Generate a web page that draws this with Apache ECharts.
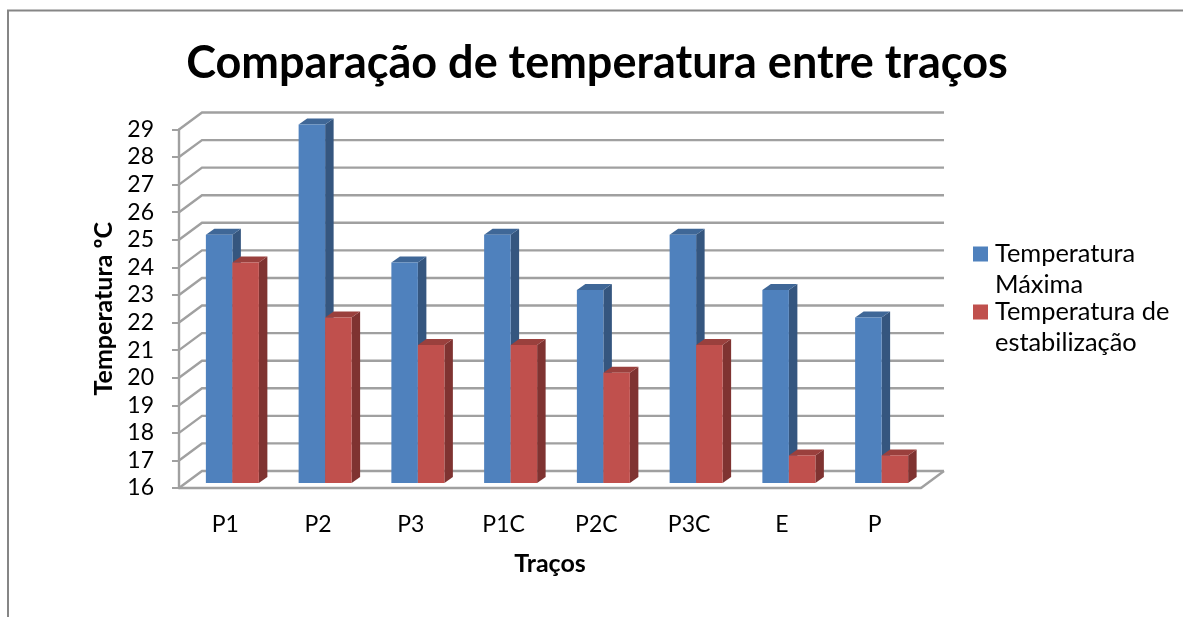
<!DOCTYPE html>
<html>
<head>
<meta charset="utf-8">
<title>Comparação de temperatura entre traços</title>
<script src="https://cdn.jsdelivr.net/npm/echarts@6/dist/echarts.min.js"></script>
<style>
  html, body { margin: 0; padding: 0; background: #fff; }
  #main { width: 1183px; height: 617px; }
</style>
</head>
<body>
<div id="main"></div>
<script>
const categories = ['P1', 'P2', 'P3', 'P1C', 'P2C', 'P3C', 'E', 'P'];
const tempMaxima = [25, 29, 24, 25, 23, 25, 23, 22];
const tempEstabilizacao = [24, 22, 21, 21, 20, 21, 17, 17];
const yTicks = [16, 17, 18, 19, 20, 21, 22, 23, 24, 25, 26, 27, 28, 29];

const FONT = 'Lato';
const GRID_COLOR = '#a0a0a0';
// fake 3D offsets, in pixels
const WALL_DX = 23, WALL_DY = -17;
const BAR_DX = 7, BAR_DY = -5;
const DEPTH_DX = 8.5, DEPTH_DY = -6;

const chart = echarts.init(document.getElementById('main'), null, { renderer: 'canvas' });

// back wall lines, one for each tick
function renderWall(params, api) {
  const v = api.value(0);
  const left = api.coord([0, v]);
  const band = api.size([1, 0])[0];
  const x0 = left[0] - band / 2;
  const x1 = left[0] + band * 7.5;
  const y = left[1];
  const children = [{
    type: 'polyline',
    shape: { points: [[x0, y], [x0 + WALL_DX, y + WALL_DY], [x1 + WALL_DX, y + WALL_DY]] },
    style: { stroke: GRID_COLOR, lineWidth: 2.4, fill: null }
  }];
  if (v === yTicks[0]) {
    // right edge of the floor
    children.push({
      type: 'line',
      shape: { x1: x1, y1: y, x2: x1 + WALL_DX, y2: y + WALL_DY },
      style: { stroke: GRID_COLOR, lineWidth: 2.4 }
    });
  }
  return { type: 'group', children: children };
}

function barRenderer(slot, front, side, top) {
  return function (params, api) {
    const idx = api.value(0);
    const base = api.coord([idx, yTicks[0]]);
    const head = api.coord([idx, api.value(1)]);
    const w = api.size([1, 0])[0] * 0.2857;
    const x0 = base[0] + BAR_DX + slot * w;
    const x1 = x0 + w;
    const y0 = head[1] + BAR_DY;
    const y1 = base[1] + BAR_DY;
    return {
      type: 'group',
      children: [
        { type: 'polygon', shape: { points: [[x1, y0], [x1 + DEPTH_DX, y0 + DEPTH_DY], [x1 + DEPTH_DX, y1 + DEPTH_DY], [x1, y1]] }, style: { fill: side } },
        { type: 'polygon', shape: { points: [[x0, y0], [x0 + DEPTH_DX, y0 + DEPTH_DY], [x1 + DEPTH_DX, y0 + DEPTH_DY], [x1, y0]] }, style: { fill: top } },
        { type: 'rect', shape: { x: x0, y: y0, width: w, height: y1 - y0 }, style: { fill: front } }
      ]
    };
  };
}

const legendLabels = {
  'Temperatura Máxima': 'Temperatura\nMáxima',
  'Temperatura de estabilização': 'Temperatura de\nestabilização'
};

const option = {
  animation: false,
  backgroundColor: '#fff',
  title: {
    text: 'Comparação de temperatura entre traços',
    left: 592,
    top: 36,
    textAlign: 'center',
    textStyle: { fontFamily: FONT, fontSize: 45, fontWeight: 'bold', color: '#000' }
  },
  grid: { left: 179, right: 262, top: 129.5, bottom: 129 },
  legend: {
    orient: 'vertical',
    left: 973,
    top: 238,
    padding: 0,
    itemWidth: 15,
    itemHeight: 46,
    itemGap: -5,
    icon: 'path://M0,0H15V15H0Z M0,46L0.01,46Z',
    data: ['Temperatura Máxima', 'Temperatura de estabilização'],
    formatter: function (name) { return legendLabels[name]; },
    textStyle: { fontFamily: FONT, fontSize: 25.4, lineHeight: 31.5, color: '#000', padding: [0, 0, 0, 2] }
  },
  xAxis: {
    type: 'category',
    data: categories,
    name: 'Traços',
    nameLocation: 'middle',
    nameGap: 63,
    nameTextStyle: { fontFamily: FONT, fontSize: 25, fontWeight: 'bold', color: '#000' },
    axisLine: { lineStyle: { color: GRID_COLOR, width: 2.4 } },
    axisTick: { show: false },
    axisLabel: { fontFamily: FONT, fontSize: 23, color: '#000', margin: 25 }
  },
  yAxis: {
    type: 'value',
    min: 16,
    max: 29,
    interval: 1,
    name: 'Temperatura ºC',
    nameLocation: 'middle',
    nameGap: 59,
    nameTextStyle: { fontFamily: FONT, fontSize: 25, fontWeight: 'bold', color: '#000' },
    axisLine: { show: true, lineStyle: { color: GRID_COLOR, width: 2.4 } },
    axisTick: { show: true, length: 7, lineStyle: { color: GRID_COLOR, width: 2 } },
    axisLabel: { fontFamily: FONT, fontSize: 23, color: '#000', margin: 25, padding: [4, 0, 0, 0] },
    splitLine: { show: false }
  },
  series: [
    {
      name: 'wall',
      type: 'custom',
      silent: true,
      z: 1,
      data: yTicks.map(function (v) { return [v]; }),
      encode: { x: -1, y: 0 },
      renderItem: renderWall
    },
    {
      name: 'Temperatura Máxima',
      type: 'custom',
      z: 2,
      itemStyle: { color: '#4f81bd' },
      data: tempMaxima.map(function (v, i) { return [i, v]; }),
      encode: { x: 0, y: 1 },
      renderItem: barRenderer(-1, '#4f81bd', '#35567f', '#3f6797')
    },
    {
      name: 'Temperatura de estabilização',
      type: 'custom',
      z: 3,
      itemStyle: { color: '#c0504d' },
      data: tempEstabilizacao.map(function (v, i) { return [i, v]; }),
      encode: { x: 0, y: 1 },
      renderItem: barRenderer(0, '#c0504d', '#7f3331', '#9a403d')
    }
  ],
  graphic: [
    // outline of the original chart frame, cut off at right and bottom
    { type: 'polyline', silent: true, shape: { points: [[8, 617], [8, 10.5], [1183, 10.5]] }, style: { stroke: '#868686', lineWidth: 2, fill: null } }
  ]
};

chart.setOption(option);
</script>
</body>
</html>
